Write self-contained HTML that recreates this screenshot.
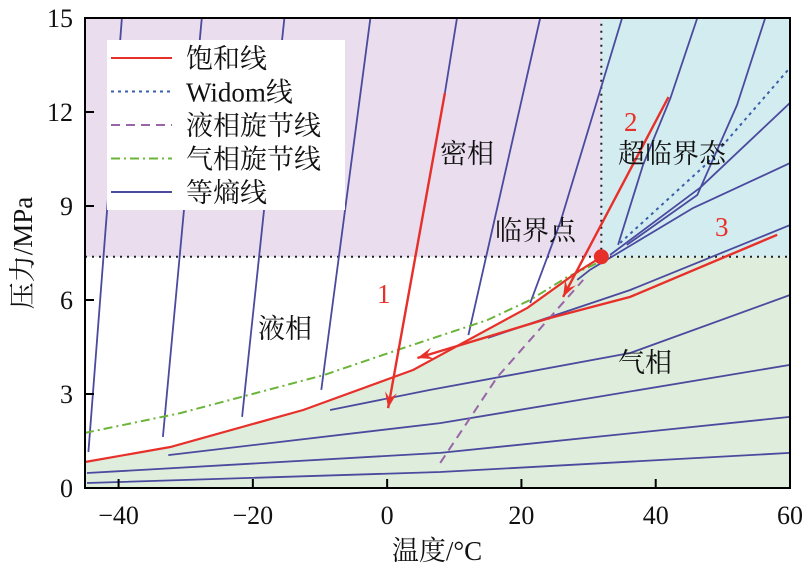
<!DOCTYPE html>
<html><head><meta charset="utf-8">
<style>
html,body{margin:0;padding:0;background:#fff;}
svg{display:block;}
</style></head>
<body>
<svg id="chart" width="809" height="572" viewBox="0 0 809 572" xmlns="http://www.w3.org/2000/svg" font-family="'Liberation Serif','Noto Serif CJK SC',serif">
<g id="regions"></g>
<g id="series"></g>
<g id="legend"></g>
<g id="axes"></g>
</svg>
<script>
// ---- data arrays ----
const xTicks = [-40, -20, 0, 20, 40, 60];
const yTicks = [0, 3, 6, 9, 12, 15];
const criticalT = [31.9];
const criticalP = [7.38];
const satT = [-45, -32.3, -12.5, 3.9, 20.9, 28.3, 31.9];
const satP = [0.83, 1.31, 2.49, 3.77, 5.75, 6.89, 7.37];
const vapSpinT = [-45, -30.8, -9.5, 1.5, 14.9, 21.3, 26.8, 31.3];
const vapSpinP = [1.76, 2.39, 3.6, 4.4, 5.36, 6.0, 6.73, 7.18];
const liqSpinT = [7.9, 16.4, 29.2];
const liqSpinP = [0.80, 3.54, 6.64];
const widomT = [34.7, 47.7, 59.7];
const widomP = [7.82, 10.37, 13.34];
const isoL1T = [-44.5, -39.5], isoL1P = [1.15, 15];
const isoL2T = [-33.4, -27.6], isoL2P = [1.63, 15];
const isoL3T = [-21.6, -15.3], isoL3P = [2.27, 15];
const isoL4T = [-9.8, -2.5], isoL4P = [3.13, 15];
const isoL5T = [10.4, 8.6], isoL5P = [15, 12.61];
const isoL6T = [22.8, 12.1], isoL6P = [15, 4.88];
const isoS1T = [35.0, 25.8, 21.3], isoS1P = [15, 8.49, 5.9];
const isoS2T = [46.2, 42.2, 38.1, 34.4], isoS2P = [15, 12.45, 10.31, 7.76];
const isoS3T = [56.3, 52.1, 46.2, 35.7], isoS3P = [15, 12.22, 9.35, 7.76];
const isoS4T = [60, 46.6, 33.2], isoS4P = [12.29, 9.58, 7.44];
const isoS5T = [60, 45.6, 30.2, 28.3], isoS5P = [10.37, 8.94, 6.96, 6.64];
const isoS6T = [60, 36.2, 15.0], isoS6P = [8.39, 6.32, 4.79];
const isoG1T = [-8.5, 6.4, 36.2, 60], isoG1P = [2.49, 3.13, 4.31, 6.16];
const isoG2T = [-32.6, 7.9, 60], isoG2P = [1.05, 2.07, 3.93];
const isoG3T = [-44.7, 7.9, 60], isoG3P = [0.48, 1.12, 2.27];
const isoG4T = [-44.7, 7.9, 60], isoG4P = [0.16, 0.51, 1.12];
const proc1T = [8.6, 0.15], proc1P = [12.61, 2.55];
const proc2T = [41.9, 26.2], proc2P = [12.48, 6.10];
const proc3T = [58.1, 36.2, 24.3, 4.5], proc3P = [8.08, 6.1, 5.43, 4.15];

// ---- axis functions ----
const L = 85, R = 790, T0 = 18, B = 488;
const xMin = -45, xMax = 60, yMin = 0, yMax = 15;
const sx = t => L + (t - xMin) / (xMax - xMin) * (R - L);
const sy = p => B - (p - yMin) / (yMax - yMin) * (B - T0);
const NS = 'http://www.w3.org/2000/svg';
const FONT = "'Liberation Serif','DejaVu Serif','Noto Serif CJK SC',serif";
function mk(tag, attrs, parent) {
  const e = document.createElementNS(NS, tag);
  for (const k in attrs) e.setAttribute(k, attrs[k]);
  if (tag === 'text') e.setAttribute('font-family', FONT);
  parent.appendChild(e);
  return e;
}
const pts = (ts, ps) => ts.map((t, i) => sx(t).toFixed(1) + ',' + sy(ps[i]).toFixed(1)).join(' ');
const gR = document.getElementById('regions');
const gS = document.getElementById('series');
const gL = document.getElementById('legend');
const gA = document.getElementById('axes');
const Tc = criticalT[0], Pc = criticalP[0];

// regions
let r1 = mk('rect', {x: sx(xMin), y: sy(yMax), width: sx(Tc) - sx(xMin), height: sy(Pc) - sy(yMax), fill: '#e9ddee'}, gR);


let r2 = mk('rect', {x: sx(Tc), y: sy(yMax), width: sx(xMax) - sx(Tc), height: sy(Pc) - sy(yMax), fill: '#d3ecf0'}, gR);


let gp = pts(satT, satP) + ' ' + sx(xMax) + ',' + sy(Pc) + ' ' + sx(xMax) + ',' + sy(0) + ' ' + sx(xMin) + ',' + sy(0);
let r3 = mk('polygon', {points: gp, fill: '#deeddc'}, gR);


let h = mk('line', {x1: sx(xMin), x2: sx(xMax), y1: sy(Pc), y2: sy(Pc), stroke: '#222', 'stroke-width': 2, 'stroke-dasharray': '2,5'}, gR);


let v = mk('line', {x1: sx(Tc), x2: sx(Tc), y1: sy(Pc), y2: sy(yMax), stroke: '#222', 'stroke-width': 2, 'stroke-dasharray': '2,5'}, gR);



// isentropes
const isos = [[isoL1T,isoL1P],[isoL2T,isoL2P],[isoL3T,isoL3P],[isoL4T,isoL4P],[isoL5T,isoL5P],[isoL6T,isoL6P],
 [isoS1T,isoS1P],[isoS2T,isoS2P],[isoS3T,isoS3P],[isoS4T,isoS4P],[isoS5T,isoS5P],[isoS6T,isoS6P],
 [isoG1T,isoG1P],[isoG2T,isoG2P],[isoG3T,isoG3P],[isoG4T,isoG4P]];
isos.forEach(([a, b]) => {
  const e = mk('polyline', {points: pts(a, b), fill: 'none', stroke: '#4a4a9e', 'stroke-width': 1.8, 'stroke-linejoin': 'round'}, gS);
  
  
});
let w = mk('polyline', {points: pts(widomT, widomP), fill: 'none', stroke: '#3a5fa8', 'stroke-width': 2, 'stroke-dasharray': '3,4'}, gS);


let ls = mk('polyline', {points: pts(liqSpinT, liqSpinP), fill: 'none', stroke: '#9a65a8', 'stroke-width': 2, 'stroke-dasharray': '9,6'}, gS);


let vs = mk('polyline', {points: pts(vapSpinT, vapSpinP), fill: 'none', stroke: '#6bb43a', 'stroke-width': 2, 'stroke-dasharray': '9,4,2,4'}, gS);


let sat = mk('polyline', {points: pts(satT, satP), fill: 'none', stroke: '#e8302a', 'stroke-width': 2.2}, gS);



// process arrows
function arrowLine(ts, ps, name) {
  const e = mk('polyline', {points: pts(ts, ps), fill: 'none', stroke: '#e8302a', 'stroke-width': 2.4}, gS);
  
  
  const n = ts.length;
  const x2 = sx(ts[n-1]), y2 = sy(ps[n-1]), x1 = sx(ts[n-2]), y1 = sy(ps[n-2]);
  const ang = Math.atan2(y2 - y1, x2 - x1), len = 16, wid = 6;
  const bx = x2 - len * Math.cos(ang), by = y2 - len * Math.sin(ang);
  const nx = -Math.sin(ang) * wid, ny = Math.cos(ang) * wid;
  const mx = x2 - len * 0.6 * Math.cos(ang), my = y2 - len * 0.6 * Math.sin(ang);
  const hd = mk('polygon', {points: `${x2},${y2} ${bx+nx},${by+ny} ${mx},${my} ${bx-nx},${by-ny}`, fill: '#e8302a'}, gS);
  
  
}
arrowLine(proc1T, proc1P, 'process-1-arrow');
arrowLine(proc2T, proc2P, 'process-2-arrow');
arrowLine(proc3T, proc3P, 'process-3-arrow');

let cp = mk('circle', {cx: sx(Tc), cy: sy(Pc), r: 7.5, fill: '#e8302a'}, gS);



// region labels
const labels = [['液相',258,338,'liquid-label','#111'],['密相',440,163,'dense-label','#111'],['超临界态',618,163,'supercritical-label','#111'],
 ['临界点',495,240,'critical-point-label','#111'],['气相',618,372,'gas-label','#111'],
 ['1',377,303,'process-1-label','#e8302a'],['2',624,131,'process-2-label','#e8302a'],['3',715,236,'process-3-label','#e8302a']];
labels.forEach(([s,x,y,n,c]) => {
  const e = mk('text', {x: x, y: y, 'font-size': 27, fill: c}, gS);
  e.textContent = s;
  
  
});

// legend
let lb = mk('rect', {x: 107, y: 40, width: 238, height: 170, fill: '#fff'}, gL);


const legNames = ['饱和线','Widom线','液相旋节线','气相旋节线','等熵线'];
const legColors = ['#e8302a','#3a5fa8','#9a65a8','#6bb43a','#4a4a9e'];
const legDash = ['', '3,4', '9,6', '9,4,2,4', ''];
legNames.forEach((s, i) => {
  const y = 58 + i * 33.5;
  const ln = mk('line', {x1: 111, x2: 172, y1: y, y2: y, stroke: legColors[i], 'stroke-width': 2, 'stroke-dasharray': legDash[i]}, gL);
  
  
  const t = mk('text', {x: 186, y: y + 10, 'font-size': 27, fill: '#111'}, gL);
  t.textContent = s;
  
  
});

// axes
let fr = mk('rect', {x: L, y: T0, width: R - L, height: B - T0, fill: 'none', stroke: '#000', 'stroke-width': 2}, gA);


xTicks.forEach(t => {
  const tk = mk('line', {x1: sx(t), x2: sx(t), y1: B, y2: B - 9, stroke: '#000', 'stroke-width': 2}, gA);
  
  
  const tl = mk('text', {x: sx(t), y: B + 36, 'font-size': 26, 'text-anchor': 'middle', fill: '#111'}, gA);
  tl.textContent = t < 0 ? '\u2212' + Math.abs(t) : String(t);
  
  
});
yTicks.forEach(p => {
  const tk = mk('line', {x1: L, x2: L + 9, y1: sy(p), y2: sy(p), stroke: '#000', 'stroke-width': 2}, gA);
  
  
  const tl = mk('text', {x: L - 12, y: sy(p) + 9, 'font-size': 26, 'text-anchor': 'end', fill: '#111'}, gA);
  tl.textContent = String(p);
  
  
});
let xt = mk('text', {x: 437, y: 560, 'font-size': 27, 'text-anchor': 'middle', fill: '#111'}, gA);
xt.textContent = '温度/°C';


let yt = mk('text', {x: 0, y: 0, 'font-size': 27, 'text-anchor': 'middle', fill: '#111', transform: 'translate(32,253) rotate(-90)'}, gA);
yt.textContent = '压力/MPa';


</script>
</body></html>
